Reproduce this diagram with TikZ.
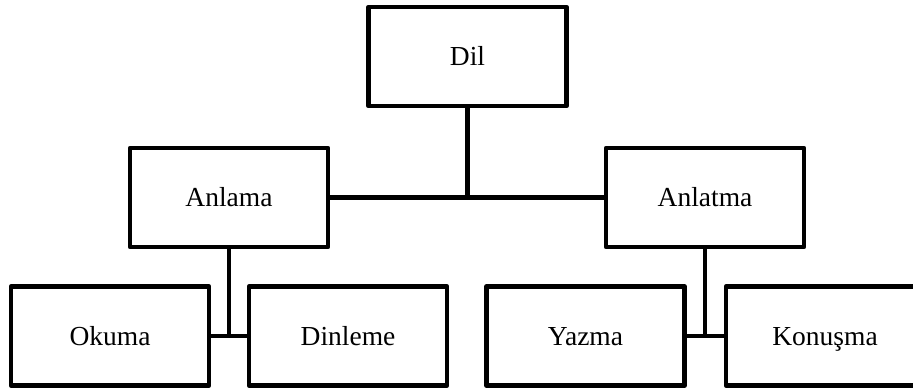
\documentclass[tikz,border=0pt]{standalone}
\usepackage{fontspec}
\setmainfont{Liberation Serif}
\begin{document}
\begin{tikzpicture}[x=1pt,y=-1pt,
  box/.style={draw=black, line width=4.8pt, line join=round, fill=white,
    minimum width=198pt, minimum height=99pt, inner sep=0pt,
    text height=18pt, text depth=0pt,
    font=\fontsize{27.5}{32}\selectfont},
  conn/.style={draw=black, line width=4.8pt}]
\useasboundingbox (0,0) rectangle (913,389);
\clip (0,0) rectangle (913,389);
\node[box] (dil) at (467.5,56.5) {Dil};
\node[box] (anlama) at (229,197.5) {Anlama};
\node[box] (anlatma) at (705,197.5) {Anlatma};
\node[box] (okuma) at (110,336) {Okuma};
\node[box] (dinleme) at (348,336) {Dinleme};
\node[box] (yazma) at (585.5,336) {Yazma};
\node[box] (konusma) at (825,336) {Konuşma};
\coordinate (j0) at (dil.south |- anlama.east);
\coordinate (j1) at (anlama.south |- okuma.east);
\coordinate (j2) at (anlatma.south |- yazma.east);
\draw[conn] (dil.south) -- (j0);
\draw[conn] (anlama.east) -- (anlatma.west);
\draw[conn] (anlama.south) -- (j1);
\draw[conn] (okuma.east) -- (dinleme.west);
\draw[conn] (anlatma.south) -- (j2);
\draw[conn] (yazma.east) -- (konusma.west);
\end{tikzpicture}
\end{document}
